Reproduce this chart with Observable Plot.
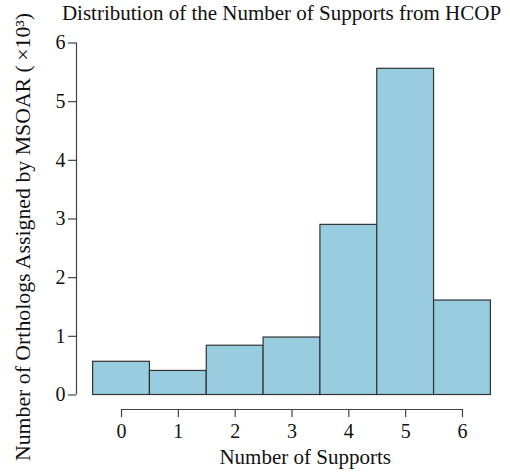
<!DOCTYPE html>
<html><head><meta charset="utf-8">
<script src="https://cdn.jsdelivr.net/npm/d3@7"></script>
<script src="https://cdn.jsdelivr.net/npm/@observablehq/plot@0.6"></script>
<style>body{margin:0;background:#fff} svg{display:block}</style>
</head><body><div id="chart"></div>
<script>
const supports = [0, 1, 2, 3, 4, 5, 6];
const orthologs = [0.566, 0.41, 0.84, 0.98, 2.90, 5.56, 1.61];
const yTicks = [0, 1, 2, 3, 4, 5, 6];
const xTicks = [0, 1, 2, 3, 4, 5, 6];
const title = "Distribution of the Number of Supports from HCOP";
const xLabel = "Number of Supports";
const yLabel = "Number of Orthologs Assigned by MSOAR (\u2009×10³)";

const data = supports.map((s, i) => ({s, n: orthologs[i]}));
const font = "'Liberation Serif', 'Times New Roman', serif";

const chart = Plot.plot({
  width: 510, height: 473,
  marginLeft: 92.6, marginRight: 19.6, marginTop: 42.5, marginBottom: 78.5,
  style: {fontFamily: font, fontSize: "20px", color: "#111", background: "#fff"},
  x: {domain: [-0.5, 6.5], axis: null},
  y: {domain: [0, 6], axis: null},
  marks: [
    Plot.rectY(data, {x1: d => d.s - 0.5, x2: d => d.s + 0.5, y1: 0, y2: "n", fill: "#97cddf", stroke: "#333", strokeWidth: 1.2}),
    Plot.ruleX([-0.5], {y1: 0, y2: 6, dx: -16.6, stroke: "#444", strokeWidth: 1.2}),
    Plot.axisY(yTicks, {anchor: "left", tickSize: 8, tickPadding: 3, dx: -16.6, stroke: "#444", strokeWidth: 1.2, fontSize: 20, label: null, fill: "#111", tickFormat: d => String(d)}),
    Plot.ruleY([0], {x1: 0, x2: 6, dy: 14.5, stroke: "#444", strokeWidth: 1.2}),
    Plot.axisX(xTicks, {anchor: "bottom", tickSize: 8, tickPadding: 6, dy: 14.5, stroke: "#444", strokeWidth: 1.2, fontSize: 20, label: null, fill: "#111", tickFormat: d => String(d)}),
    Plot.text([title], {frameAnchor: "top", dx: -10.5, dy: -23, fontSize: 21, lineAnchor: "bottom", fill: "#111"}),
    Plot.text([xLabel], {frameAnchor: "bottom", dx: 13.2, dy: 68.5, fontSize: 21, lineAnchor: "bottom", fill: "#111"}),
    Plot.text([yLabel], {frameAnchor: "left", textAnchor: "middle", rotate: -90, dx: -63, dy: 18, fontSize: 21.8, lineAnchor: "bottom", fill: "#111"})
  ]
});
document.getElementById("chart").appendChild(chart);
</script>
</body></html>
